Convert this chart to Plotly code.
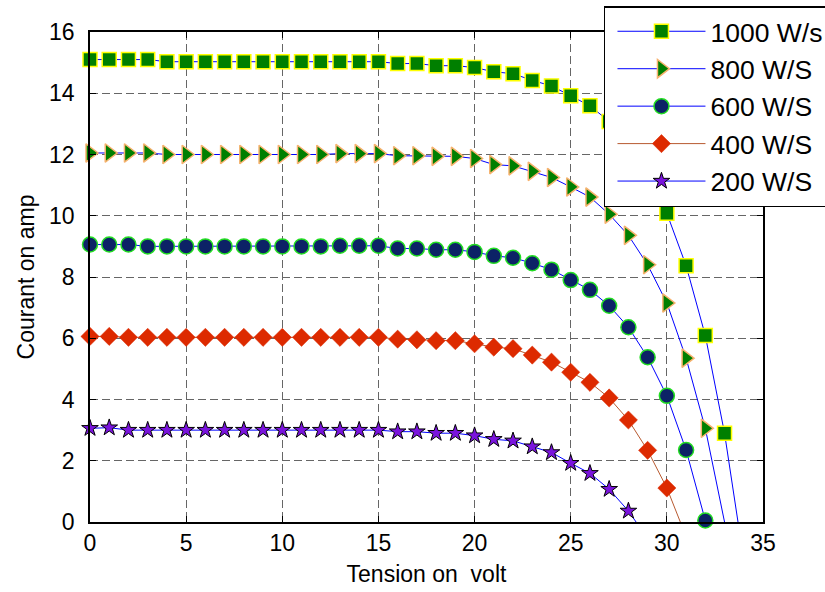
import plotly.graph_objects as go

# ---------------- data ----------------
volt_1000 = list(range(0, 34))
amp_1000 = [15.1, 15.1, 15.1, 15.1, 15.03, 15.03, 15.03, 15.03, 15.03, 15.03,
            15.03, 15.03, 15.03, 15.03, 15.03, 15.03, 14.97, 14.97, 14.9, 14.9,
            14.84, 14.7, 14.64, 14.42, 14.24, 13.92, 13.59, 13.08, 12.3, 11.3,
            10.08, 8.37, 6.09, 2.9]
end_1000 = (33.7, 0.0)

volt_800 = list(range(0, 33))
amp_800 = [12.05, 12.05, 12.05, 12.05, 12.0, 12.0, 12.0, 12.0, 12.0, 12.0,
           12.0, 12.0, 12.0, 12.03, 12.03, 12.03, 11.96, 11.96, 11.94, 11.94,
           11.87, 11.67, 11.63, 11.45, 11.25, 10.94, 10.61, 10.05, 9.36, 8.4,
           7.15, 5.35, 3.06]
end_800 = (33.0, 0.0)

volt_600 = list(range(0, 33))
amp_600 = [9.06, 9.06, 9.06, 9.0, 9.0, 9.0, 9.0, 9.0, 9.0, 9.0,
           9.0, 9.0, 9.0, 9.02, 9.02, 9.02, 8.93, 8.93, 8.89, 8.89,
           8.82, 8.69, 8.63, 8.45, 8.24, 7.9, 7.58, 7.06, 6.36, 5.38,
           4.12, 2.35, 0.05]
end_600 = (32.0, 0.0)

volt_400 = list(range(0, 31))
amp_400 = [6.06, 6.06, 6.03, 6.03, 6.03, 6.03, 6.03, 6.03, 6.03, 6.03,
           6.03, 6.03, 6.03, 6.03, 6.03, 6.03, 5.97, 5.95, 5.92, 5.92,
           5.82, 5.71, 5.66, 5.45, 5.22, 4.89, 4.56, 4.05, 3.33, 2.34,
           1.11]
end_400 = (30.7, 0.0)

volt_200 = list(range(0, 29))
amp_200 = [3.06, 3.08, 3.0, 3.0, 3.0, 3.0, 3.0, 3.0, 3.0, 3.0,
           3.0, 3.0, 3.0, 3.0, 3.0, 3.0, 2.95, 2.95, 2.9, 2.9,
           2.82, 2.7, 2.65, 2.46, 2.27, 1.92, 1.59, 1.07, 0.36]
end_200 = (28.4, 0.0)

labels = ["1000 W/s", "800 W/S", "600 W/S", "400 W/S", "200 W/S"]
x_ticks = [0, 5, 10, 15, 20, 25, 30, 35]
y_ticks = [0, 2, 4, 6, 8, 10, 12, 14, 16]

series = [
    (volt_1000, amp_1000, end_1000, labels[0],
     dict(symbol="square", size=14, color="#007f00", line=dict(color="#ffff00", width=1.5)), "#0000ff"),
    (volt_800, amp_800, end_800, labels[1],
     dict(symbol="triangle-right", size=16, color="#007f00", line=dict(color="#f7b26e", width=1.5)), "#0000ff"),
    (volt_600, amp_600, end_600, labels[2],
     dict(symbol="circle", size=15, color="#0c2266", line=dict(color="#22dd22", width=1.5)), "#0000ff"),
    (volt_400, amp_400, end_400, labels[3],
     dict(symbol="diamond", size=14, color="#dd2a00", line=dict(color="#dd2a00", width=0.5)), "#b85a30"),
    (volt_200, amp_200, end_200, labels[4],
     dict(symbol="star", size=12.5, color="#7a14dd", line=dict(color="#000000", width=1)), "#0000ff"),
]

FONT = "Liberation Sans, Arial, Helvetica, sans-serif"

fig = go.Figure()
# line extensions down to I = 0 (no markers)
for vx, vy, end, name, mk, lc in series:
    fig.add_trace(go.Scatter(
        x=[vx[-1], end[0]], y=[vy[-1], end[1]], mode="lines",
        line=dict(color=lc, width=1), showlegend=False, hoverinfo="skip",
        cliponaxis=False))
for vx, vy, end, name, mk, lc in series:
    fig.add_trace(go.Scatter(
        x=vx, y=vy, mode="lines+markers", name=name,
        line=dict(color=lc, width=1), marker=mk, cliponaxis=False))

axis_common = dict(
    showline=True, linecolor="black", linewidth=1.5, mirror="ticks",
    ticks="inside", ticklen=6, tickwidth=1.2, tickcolor="black",
    showgrid=True, gridcolor="#666666", gridwidth=1.3, griddash="8px,4px",
    zeroline=False, tickfont=dict(family=FONT, size=23, color="black"),
)

fig.update_layout(
    width=825, height=592,
    margin=dict(l=90, r=62, t=32, b=70, autoexpand=False),
    paper_bgcolor="white", plot_bgcolor="white",
    font=dict(family=FONT, color="black"),
    xaxis=dict(range=[0, 35], tickvals=x_ticks, **axis_common, ticklabelstandoff=0,
               title=dict(text="Tension on  volt", font=dict(family=FONT, size=23), standoff=11)),
    yaxis=dict(range=[0, 16], tickvals=y_ticks, **axis_common, ticklabelstandoff=9,
               title=dict(text="Courant on amp", font=dict(family=FONT, size=23), standoff=8)),
    legend=dict(
        x=0.7637, y=1.053, xanchor="left", yanchor="top",
        bgcolor="white", bordercolor="black", borderwidth=1.5,
        font=dict(family=FONT, size=26.5, color="black"),
        itemwidth=88, indentation=7,
    ),
    showlegend=True,
)

fig.write_html("out.html", config={"displayModeBar": False},
               post_script="document.body.style.margin='0px';document.body.style.padding='0px';")
